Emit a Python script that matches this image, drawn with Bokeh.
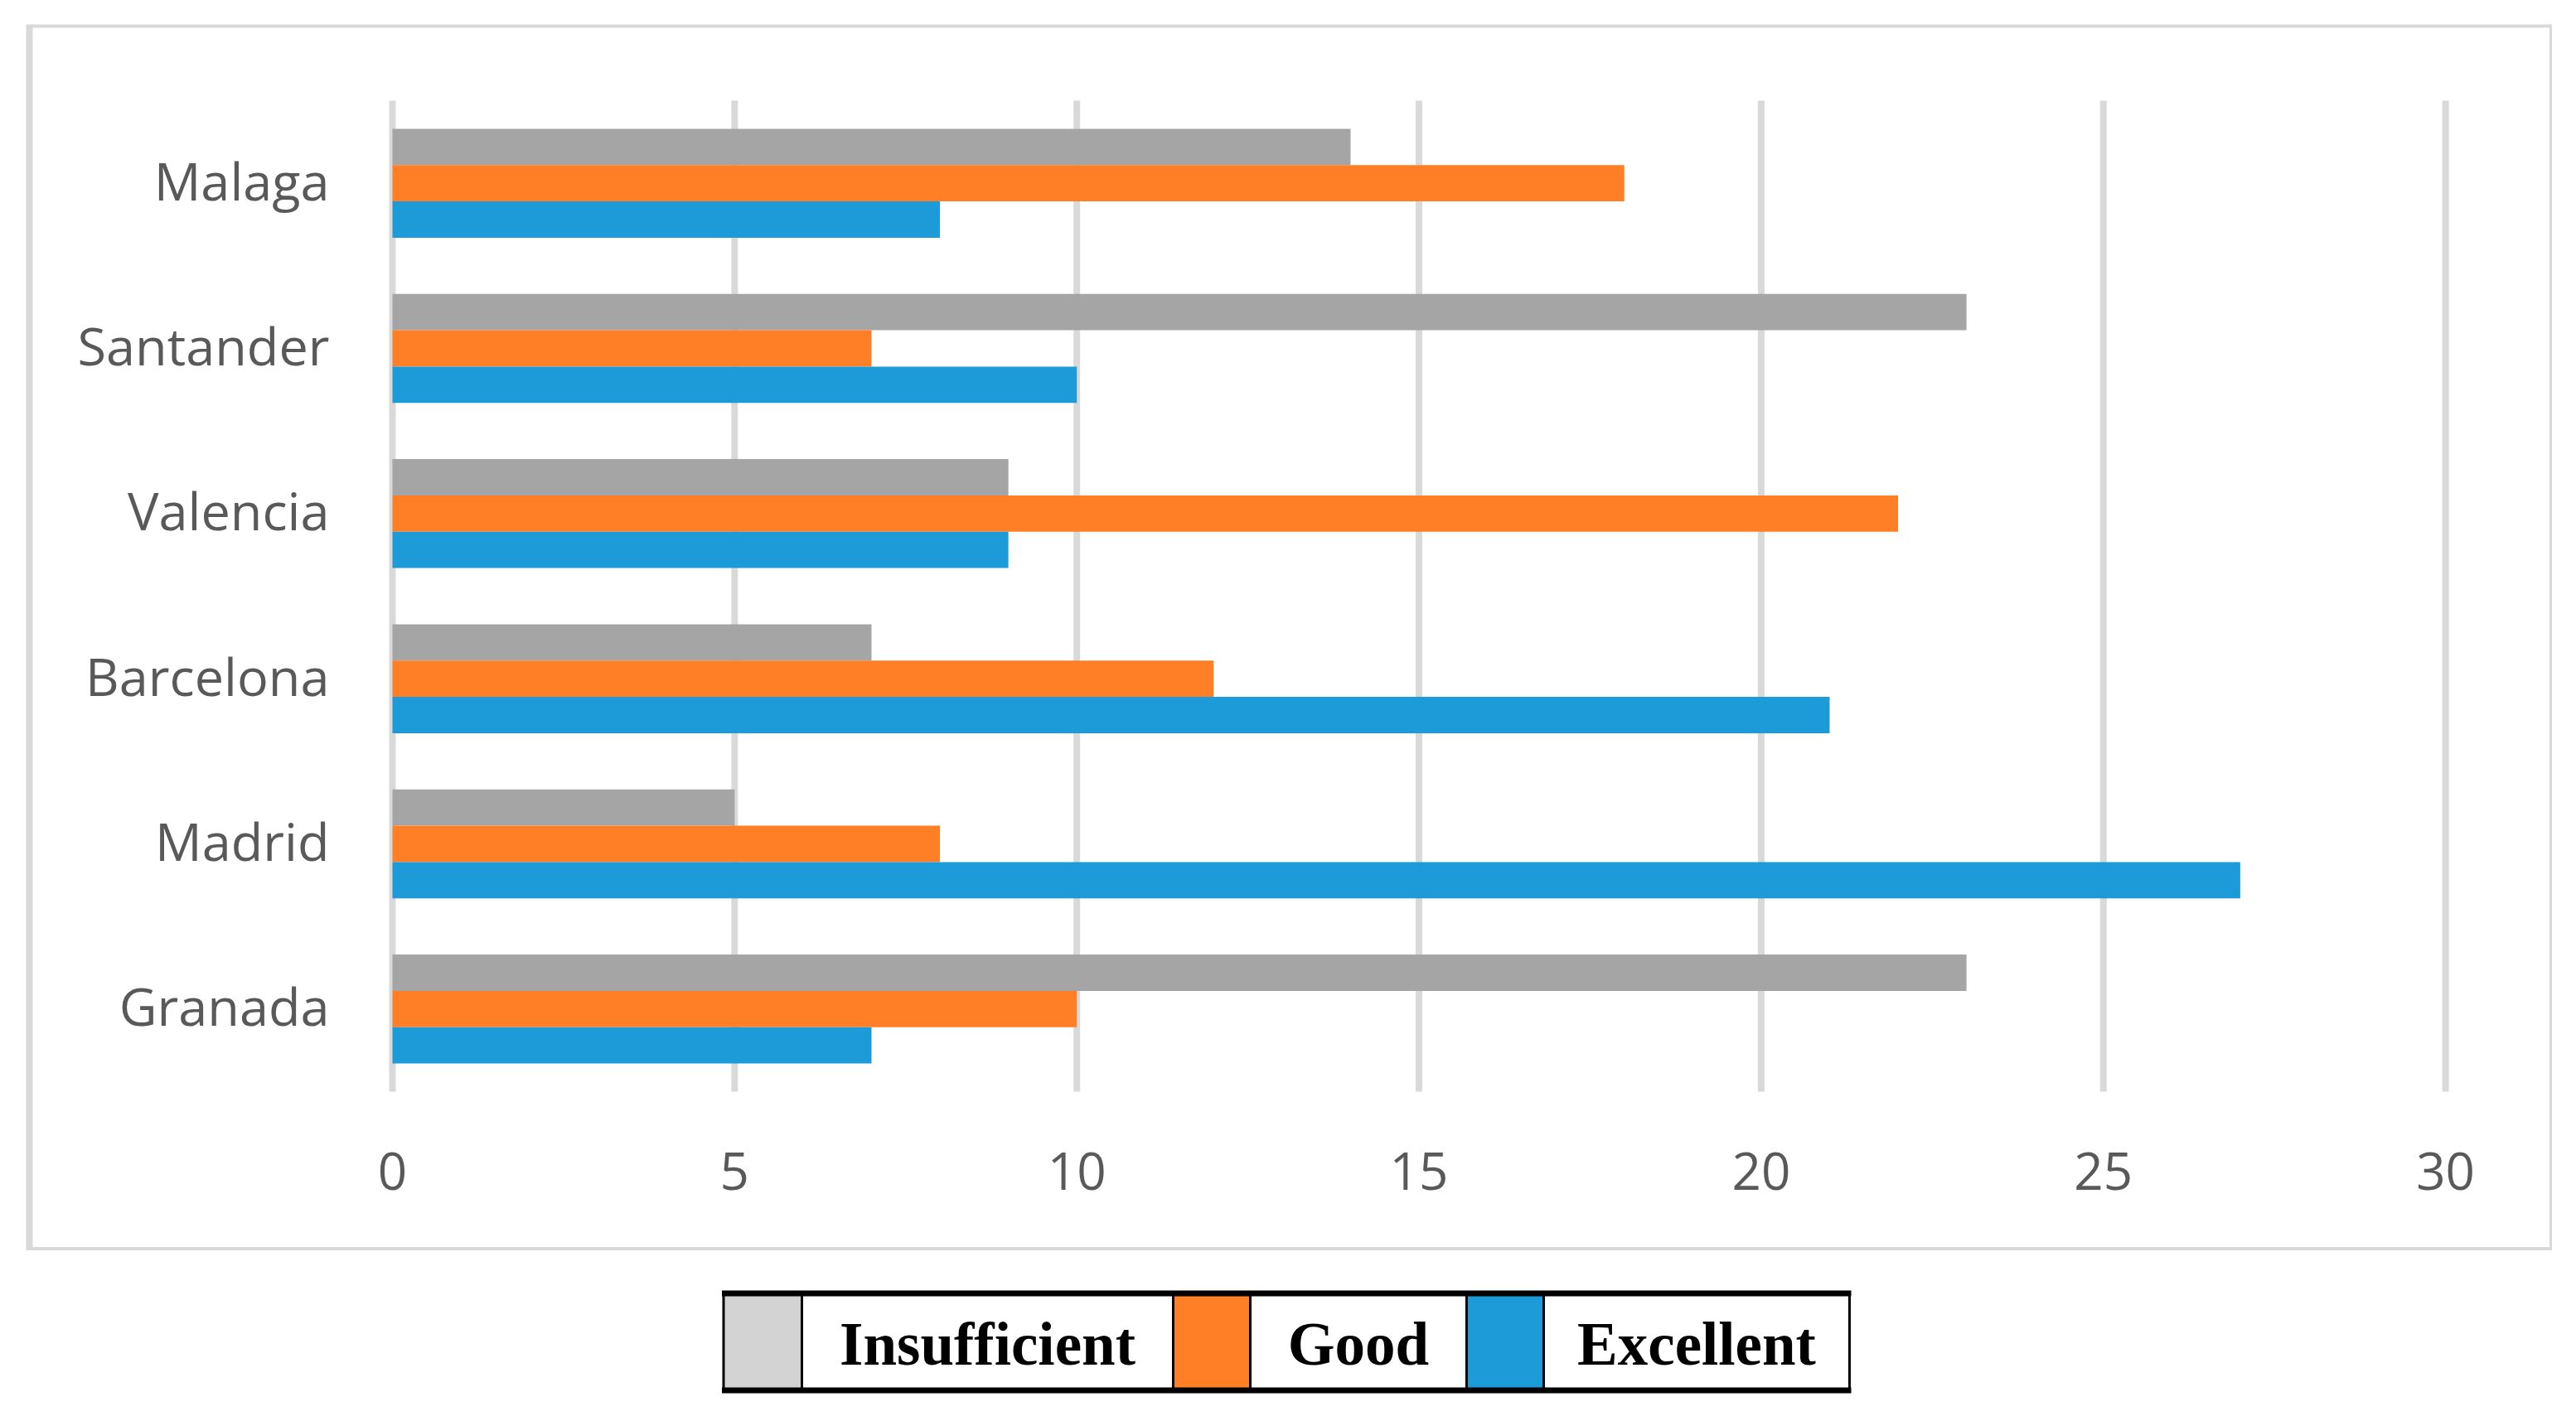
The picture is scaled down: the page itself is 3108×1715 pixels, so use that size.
from bokeh.plotting import figure
from bokeh.models import Range1d, ColumnDataSource
from bokeh.core.properties import value
from bokeh.embed import file_html
from bokeh.resources import INLINE

# ---------------- data ----------------
cities = ["Granada", "Madrid", "Barcelona", "Valencia", "Santander", "Malaga"]
insufficient = [23, 5, 7, 9, 23, 14]
good = [10, 8, 12, 22, 7, 18]
excellent = [7, 27, 21, 9, 10, 8]
series_names = ["Insufficient", "Good", "Excellent"]
x_ticks = [0, 5, 10, 15, 20, 25, 30]
x_tick_labels = ["0", "5", "10", "15", "20", "25", "30"]

# ---------------- style / layout ----------------
bar_colors = ["#A5A5A5", "#FF7F27", "#1D9BD8"]
swatch_colors = ["#D3D3D3", "#FF7F27", "#1D9BD8"]
grid_color = "#D9D9D9"
label_color = "#595959"
label_font = "Open Sans"
legend_font = "Liberation Serif"

W, H = 3092, 1699
PX0, PX_PER = 473.0, 82.57          # canvas px of x=0, px per unit
PY_TOP, PY_BOT = 121.0, 1317.0      # canvas px of plot top / bottom
n = len(cities)
PY_PER = (PY_BOT - PY_TOP) / n


def dx(px):
    return (px - PX0) / PX_PER


def dy(py):
    return (PY_BOT - py) / PY_PER


p = figure(width=W, height=H,
           x_range=Range1d(dx(0), dx(W)), y_range=Range1d(dy(H), dy(0)),
           x_axis_location=None, y_axis_location=None,
           output_backend="svg", toolbar_location=None, min_border=0)
p.grid.visible = False
p.outline_line_color = None
p.background_fill_color = "white"
p.border_fill_color = "white"

# outer light-gray frame
fx0, fx1, fy0, fy1 = 35, 3077, 31, 1506.5
p.segment(x0=[dx(fx0), dx(fx0), dx(fx1), dx(fx0)],
          y0=[dy(fy0 - 2), dy(fy0), dy(fy0 - 2), dy(fy1)],
          x1=[dx(fx0), dx(fx1), dx(fx1), dx(fx1 + 1)],
          y1=[dy(fy1 + 2), dy(fy0), dy(fy1 + 2), dy(fy1)],
          line_color=grid_color, line_width=[8, 4, 3, 4])

# vertical gridlines
p.segment(x0=x_ticks, x1=x_ticks, y0=[0] * len(x_ticks), y1=[n] * len(x_ticks),
          line_color=grid_color, line_width=8)

# bars
bar_h = 0.22
offsets = [bar_h, 0.0, -bar_h]
for vals, col, off, name in zip([insufficient, good, excellent], bar_colors, offsets, series_names):
    src = ColumnDataSource(dict(y=[i + 0.5 + off for i in range(n)], right=vals))
    p.hbar(y="y", left=0, right="right", height=bar_h, source=src,
           fill_color=col, line_color=None)

# category labels
lab_shift = 4 / PY_PER
p.text(x=[dx(397)] * n, y=[i + 0.5 + lab_shift for i in range(n)], text=cities,
       text_align="right", text_baseline="middle",
       text_font=value(label_font), text_font_size="63px", text_color=label_color)

# x tick labels
p.text(x=x_ticks, y=[dy(1413)] * len(x_ticks), text=x_tick_labels,
       text_align="center", text_baseline="middle",
       text_font=value(label_font), text_font_size="62px", text_color=label_color)

# legend (table-like)
edges = [872.5, 967, 1415, 1508, 1769, 1862, 2231]
ly0, ly1 = 1560.5, 1677.5
cell_left, cell_right, cell_fill = [], [], []
for k in range(3):
    cell_left += [dx(edges[2 * k]), dx(edges[2 * k + 1])]
    cell_right += [dx(edges[2 * k + 1]), dx(edges[2 * k + 2])]
    cell_fill += [swatch_colors[k], "white"]
p.quad(left=cell_left, right=cell_right, top=[dy(ly0)] * 6, bottom=[dy(ly1)] * 6,
       fill_color=cell_fill, line_color="black", line_width=3)
p.segment(x0=[dx(edges[0] - 2)] * 2, x1=[dx(edges[-1] + 2)] * 2,
          y0=[dy(ly0), dy(ly1)], y1=[dy(ly0), dy(ly1)],
          line_color="black", line_width=7)
p.text(x=[dx((edges[2 * k + 1] + edges[2 * k + 2]) / 2) for k in range(3)],
       y=[dy(1622)] * 3, text=series_names,
       text_align="center", text_baseline="middle",
       text_font=value(legend_font), text_font_style="bold",
       text_font_size="73px", text_color="black")

open("out.html", "w").write(file_html(p, INLINE))
